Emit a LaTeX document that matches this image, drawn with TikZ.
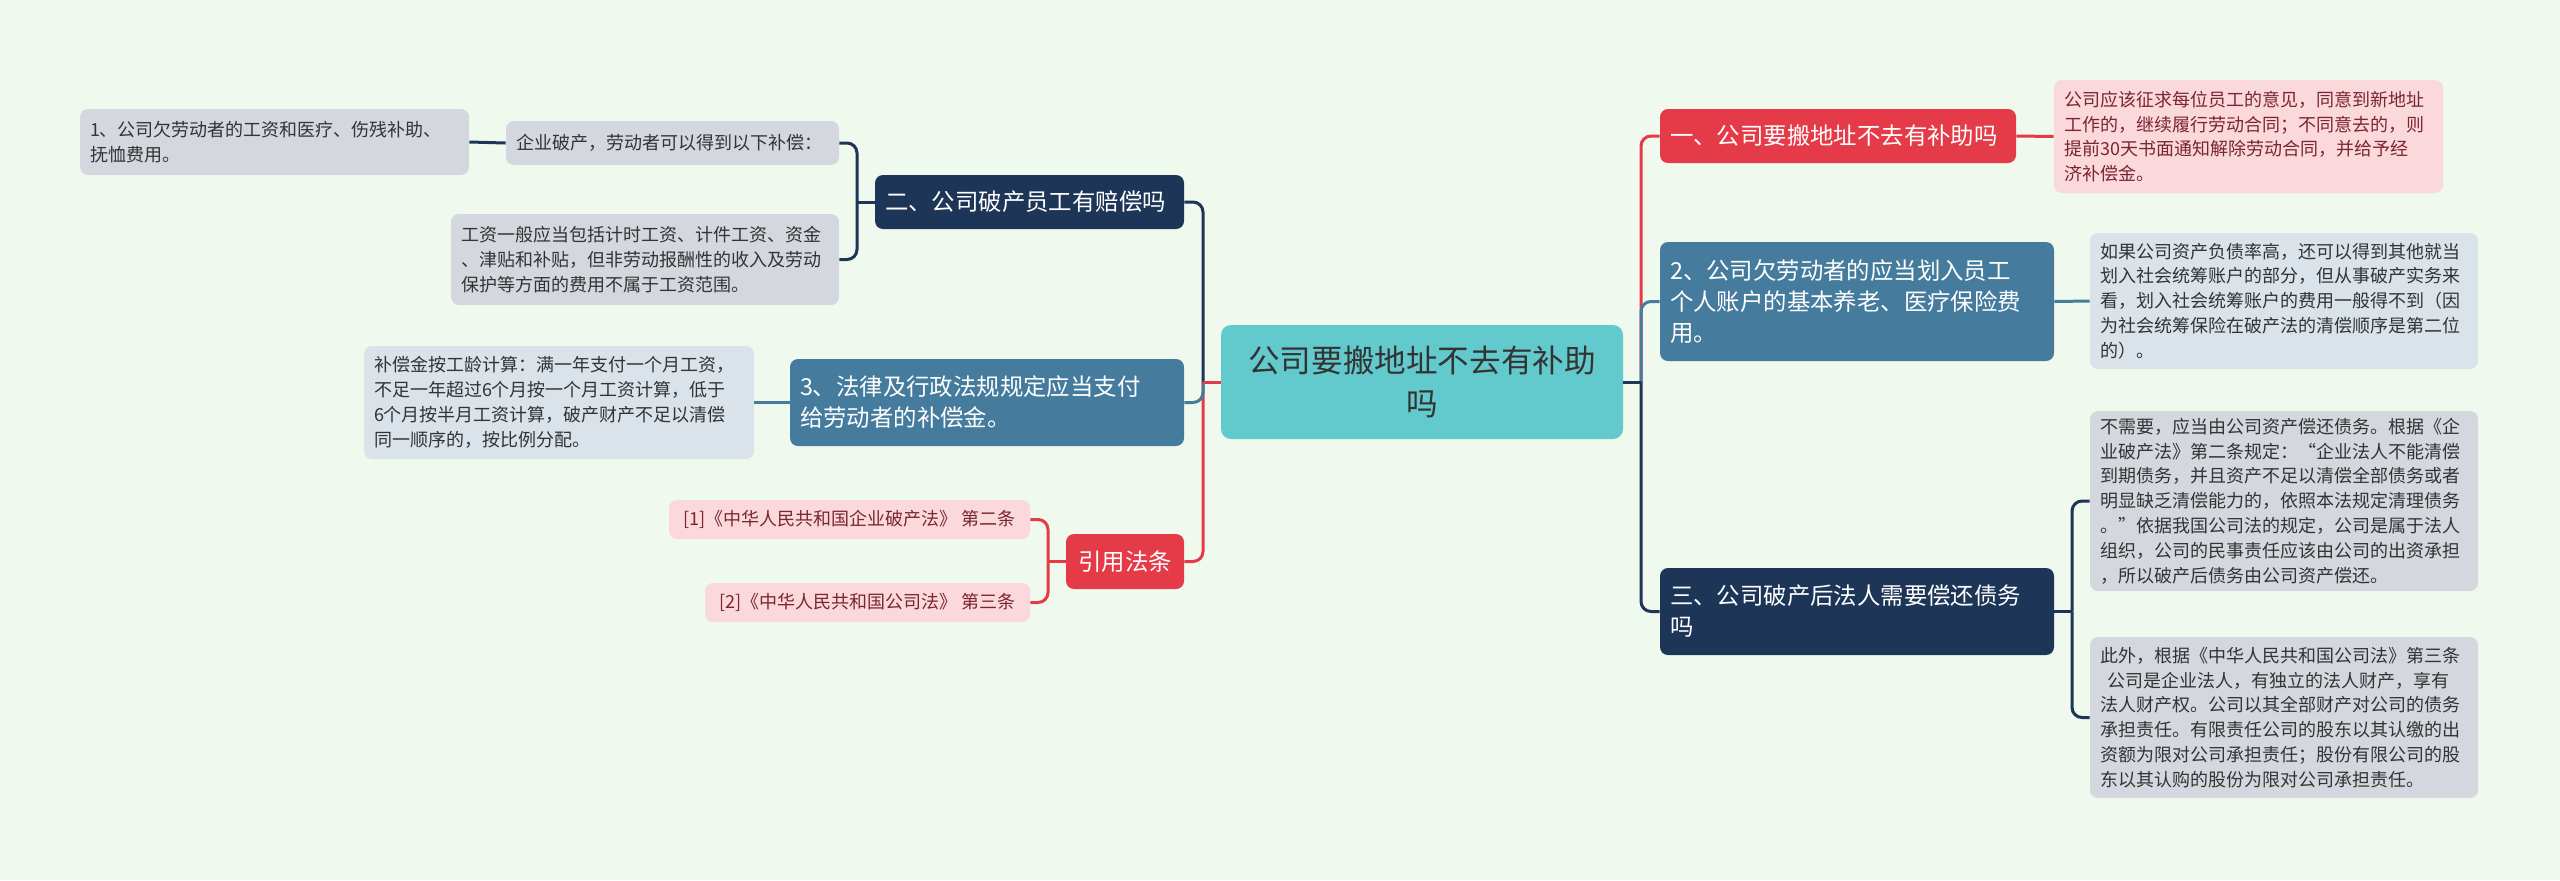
\documentclass[tikz,border=0pt]{standalone}
\usepackage{fontspec}
\setmainfont{Noto Sans CJK SC}
\usepackage{tikz}
\usetikzlibrary{positioning,calc}
\definecolor{bgmint}{HTML}{F0F9EE}
\definecolor{ctrteal}{HTML}{62C9CC}
\definecolor{redc}{HTML}{E53A48}
\definecolor{steelc}{HTML}{457B9D}
\definecolor{navyc}{HTML}{1D3557}
\definecolor{pinkleaf}{HTML}{FAD8DC}
\definecolor{greyleaf}{HTML}{D4D8DE}
\definecolor{blueleaf}{HTML}{DAE3EA}
\definecolor{darktext}{HTML}{333333}
\definecolor{pinktext}{HTML}{7A2630}

\begin{document}
\begin{tikzpicture}[x=0.5pt,y=-0.5pt,
	box/.style={rounded corners=4pt,inner xsep=5pt,inner ysep=3pt,align=left},
	topic/.style={box,text=white,font=\fontsize{11.7}{15.5}\selectfont},
	leaf/.style={box,text=darktext,font=\fontsize{9}{12.4}\selectfont},
	leafp/.style={leaf,fill=pinkleaf,text=pinktext},
	link/.style={line width=1.5pt,rounded corners=5pt}]
				\useasboundingbox[fill=bgmint] (0,0) rectangle (2560,880);
				
				\node[fill=ctrteal,rounded corners=5pt,minimum width=201pt,minimum height=57pt,
				align=center,text=darktext,font=\fontsize{15.8}{21.5}\selectfont]
				(ctr) at (1422,382) {公司要搬地址不去有补助\\吗};
				
				\node[topic,fill=redc,minimum width=178pt,minimum height=27pt,text width=168pt]
				(t1) at (1838,136) {一、公司要搬地址不去有补助吗};
				\node[topic,fill=steelc,minimum width=197pt,minimum height=59.5pt,text width=187pt]
				(t2) at (1857,301.5) {2、公司欠劳动者的应当划入员工\\个人账户的基本养老、医疗保险费\\用。};
				\node[topic,fill=navyc,minimum width=197pt,minimum height=43.5pt,text width=187pt]
				(t3) at (1857,611.5) {三、公司破产后法人需要偿还债务\\吗};
				\node[topic,fill=navyc,minimum width=154.5pt,minimum height=27pt,text width=144.5pt]
				(t4) at (1029.5,202) {二、公司破产员工有赔偿吗};
				\node[topic,fill=steelc,minimum width=197pt,minimum height=43.5pt,text width=187pt]
				(t5) at (987,402.5) {3、法律及行政法规规定应当支付\\给劳动者的补偿金。};
				\node[topic,fill=redc,minimum width=59pt,minimum height=27.5pt,align=center]
				(t6) at (1125,561.5) {引用法条};
				
				\node[leafp,minimum width=194.5pt,minimum height=56.5pt,text width=184.5pt]
				(l1) at (2248.5,136.5) {公司应该征求每位员工的意见，同意到新地址\\工作的，继续履行劳动合同；不同意去的，则\\提前30天书面通知解除劳动合同，并给予经\\济补偿金。};
				\node[leaf,fill=blueleaf,minimum width=194pt,minimum height=68pt,text width=184pt]
				(l2) at (2284,301) {如果公司资产负债率高，还可以得到其他就当\\划入社会统筹账户的部分，但从事破产实务来\\看，划入社会统筹账户的费用一般得不到（因\\为社会统筹保险在破产法的清偿顺序是第二位\\的）。};
				\node[leaf,fill=greyleaf,minimum width=194pt,minimum height=90pt,text width=184pt]
				(l3a) at (2284,501) {不需要，应当由公司资产偿还债务。根据《企\\业破产法》第二条规定：“企业法人不能清偿\\到期债务，并且资产不足以清偿全部债务或者\\明显缺乏清偿能力的，依照本法规定清理债务\\。”依据我国公司法的规定，公司是属于法人\\组织，公司的民事责任应该由公司的出资承担\\，所以破产后债务由公司资产偿还。};
				\node[leaf,fill=greyleaf,minimum width=194pt,minimum height=80.5pt,text width=184pt]
				(l3b) at (2284,717.5) {此外，根据《中华人民共和国公司法》第三条\\\hspace*{.4em}公司是企业法人，有独立的法人财产，享有\\法人财产权。公司以其全部财产对公司的债务\\承担责任。有限责任公司的股东以其认缴的出\\资额为限对公司承担责任；股份有限公司的股\\东以其认购的股份为限对公司承担责任。};
				
				\node[leaf,fill=greyleaf,minimum width=166.5pt,minimum height=22pt,text width=156.5pt]
				(l4a) at (672.5,143) {企业破产，劳动者可以得到以下补偿：};
				\node[leaf,fill=greyleaf,minimum width=194.5pt,minimum height=33pt,text width=184.5pt]
				(l4b) at (274.5,142) {1、公司欠劳动者的工资和医疗、伤残补助、\\抚恤费用。};
				\node[leaf,fill=greyleaf,minimum width=194pt,minimum height=45.5pt,text width=184pt]
				(l4c) at (645,259.5) {工资一般应当包括计时工资、计件工资、资金\\、津贴和补贴，但非劳动报酬性的收入及劳动\\保护等方面的费用不属于工资范围。};
				\node[leaf,fill=blueleaf,minimum width=195pt,minimum height=56.5pt,text width=185pt]
				(l5) at (559,402.5) {补偿金按工龄计算：满一年支付一个月工资，\\不足一年超过6个月按一个月工资计算，低于\\6个月按半月工资计算，破产财产不足以清偿\\同一顺序的，按比例分配。};
				\node[leafp,minimum width=180.5pt,minimum height=19.5pt,align=center]
				(r1) at (849.5,519.5) {[1]《中华人民共和国企业破产法》 第二条};
				\node[leafp,minimum width=162.5pt,minimum height=19.5pt,align=center]
				(r2) at (867.5,602.5) {[2]《中华人民共和国公司法》 第三条};
				
				\coordinate (rt) at (1641,382);
				\coordinate (lt) at (1203,382);
				\coordinate (j3) at (2072,611.5);
				\coordinate (j4) at (857,202);
				\coordinate (j6) at (1048,561.5);
				
				\draw[link,redc] (rt) |- (t1.west);
				\draw[link,steelc] (rt) |- (t2.west);
				\draw[link,navyc] (rt) |- (t3.west);
				\draw[link,navyc] (ctr.east) -- (rt);
				\draw[link,redc] (t1.east) -- (l1.west);
				\draw[link,steelc] (t2.east) -- (l2.west);
				\draw[link,navyc] (t3.east) -- (j3);
				\draw[link,navyc] (j3) |- (l3a.west);
				\draw[link,navyc] (j3) |- (l3b.west);
				
				\draw[link,redc] (lt) |- (t6.east);
				\draw[link,navyc] (lt) |- (t4.east);
				\draw[link,steelc] (lt) |- (t5.east);
				\draw[link,redc] (ctr.west) -- (lt);
				\draw[link,navyc] (t4.west) -- (j4);
				\draw[link,navyc] (j4) |- (l4a.east);
				\draw[link,navyc] (j4) |- (l4c.east);
				\draw[link,navyc] (l4a.west) -- (l4b.east);
				\draw[link,steelc] (t5.west) -- (l5.east);
				\draw[link,redc] (t6.west) -- (j6);
				\draw[link,redc] (j6) |- (r1.east);
				\draw[link,redc] (j6) |- (r2.east);
			\end{tikzpicture}
\end{document}
